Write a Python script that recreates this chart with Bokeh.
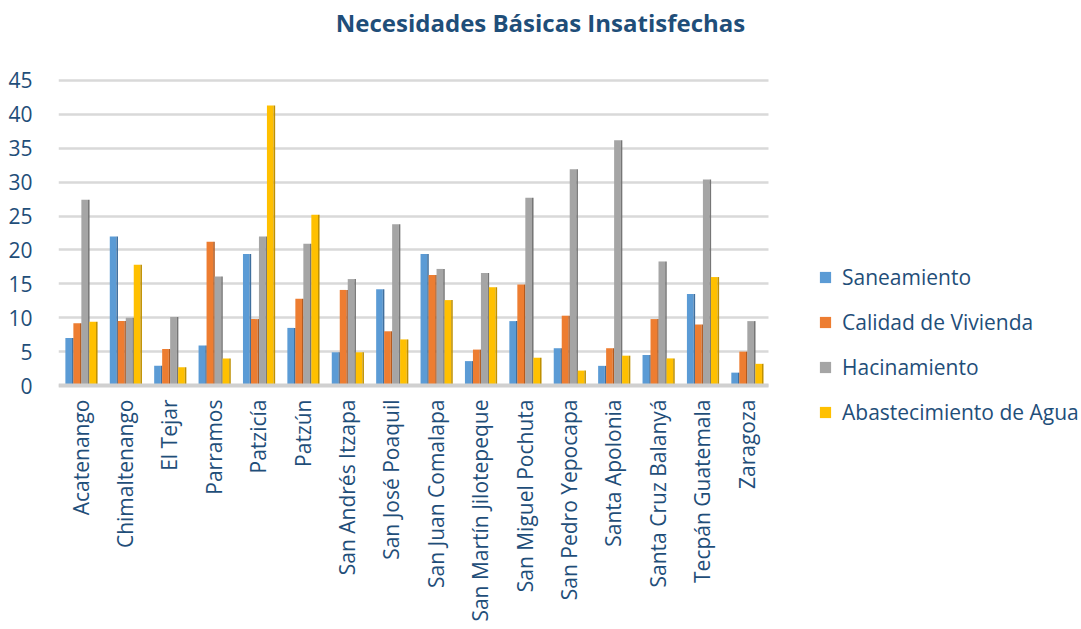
from bokeh.plotting import figure
from bokeh.models import ColumnDataSource, Legend, LegendItem, Range1d, FixedTicker, Label
from bokeh.transform import dodge
from bokeh.embed import file_html
from bokeh.resources import INLINE
import math

municipios = ["Acatenango", "Chimaltenango", "El Tejar", "Parramos", "Patzicía", "Patzún",
              "San Andrés Itzapa", "San José Poaquil", "San Juan Comalapa",
              "San Martín Jilotepeque", "San Miguel Pochuta", "San Pedro Yepocapa",
              "Santa Apolonia", "Santa Cruz Balanyá", "Tecpán Guatemala", "Zaragoza"]
saneamiento  = [7.0, 22.0, 2.9, 5.9, 19.4, 8.5, 4.9, 14.2, 19.4, 3.6, 9.5, 5.5, 2.9, 4.5, 13.5, 1.9]
calidad      = [9.2, 9.5, 5.4, 21.2, 9.8, 12.8, 14.1, 8.0, 16.3, 5.3, 14.9, 10.3, 5.5, 9.8, 9.0, 5.0]
hacinamiento = [27.4, 10.0, 10.1, 16.1, 22.0, 20.9, 15.7, 23.8, 17.2, 16.6, 27.7, 31.9, 36.2, 18.3, 30.4, 9.5]
agua         = [9.4, 17.8, 2.7, 4.0, 41.3, 25.2, 4.9, 6.8, 12.6, 14.5, 4.1, 2.2, 4.4, 4.0, 16.0, 3.2]
series_names = ["Saneamiento", "Calidad de Vivienda", "Hacinamiento", "Abastecimiento de Agua"]
y_ticks = [0, 5, 10, 15, 20, 25, 30, 35, 40, 45]
titulo = "Necesidades Básicas Insatisfechas"

front_colors = ["#5B9BD5", "#ED7D31", "#A5A5A5", "#FFC000"]
side_colors = ["#3F6F9E", "#B45A1E", "#767676", "#BF9000"]
text_color = "#1F4E79"
FONT = "Open Sans"
cols = ["s0", "s1", "s2", "s3"]

n = len(municipios)
xi = [i + 0.5 for i in range(n)]          # category centres on a numeric scale
src = ColumnDataSource(dict(xi=xi, s0=saneamiento, s1=calidad, s2=hacinamiento, s3=agua))

# frame fills the figure (except the y-label strip), so title/legend/x-labels are inside it
p = figure(x_range=Range1d(0, 23.02), y_range=Range1d(-35.7, 56.8),
           width=1080, height=627, output_backend="svg", toolbar_location=None,
           min_border_left=58, min_border_right=0, min_border_top=0, min_border_bottom=0)

offsets = [-0.27, -0.09, 0.09, 0.27]
bw = 0.15
sw = 0.035
renderers = []
for i, col in enumerate(cols):
    r = p.vbar(x=dodge("xi", offsets[i]), top=col, width=bw, bottom=0,
               source=src, fill_color=front_colors[i], line_color=None)
    p.vbar(x=dodge("xi", offsets[i] + bw / 2 + sw / 2), top=col, width=sw, bottom=0,
           source=src, fill_color=side_colors[i], line_color=None)
    renderers.append(r)

p.yaxis.ticker = FixedTicker(ticks=y_ticks)
p.yaxis.axis_line_color = None
p.yaxis.major_tick_line_color = None
p.yaxis.minor_tick_line_color = None
p.yaxis.major_label_standoff = 20
p.yaxis.major_label_text_font = FONT
p.yaxis.major_label_text_font_size = "21px"
p.yaxis.major_label_text_color = text_color

p.xaxis.fixed_location = 0
p.xaxis.bounds = (0, n)
p.xaxis.ticker = FixedTicker(ticks=xi)
p.xaxis.major_label_overrides = {x: m for x, m in zip(xi, municipios)}
p.xaxis.axis_line_color = "#D0D0D0"
p.xaxis.axis_line_width = 4
p.xaxis.major_tick_line_color = None
p.xaxis.minor_tick_line_color = None
p.xaxis.major_label_orientation = math.pi / 2
p.xaxis.major_label_standoff = 8
p.xaxis.major_label_text_font = FONT
p.xaxis.major_label_text_font_size = "21px"
p.xaxis.major_label_text_color = text_color

p.xgrid.grid_line_color = None
p.ygrid.grid_line_color = "#D9D9D9"
p.ygrid.grid_line_width = 2.5
p.ygrid.cross_bounds = (0, n)
p.outline_line_color = None

p.add_layout(Label(x=482, y=605, x_units="screen", y_units="screen", text=titulo,
                   text_align="center", text_baseline="middle", text_font=FONT,
                   text_font_style="bold", text_font_size="24px", text_color=text_color))

legend = Legend(items=[LegendItem(label=series_names[i], renderers=[renderers[i]]) for i in range(4)],
                location=(760, 201))
legend.background_fill_alpha = 0
legend.border_line_color = None
legend.label_text_font = FONT
legend.label_text_font_size = "21px"
legend.label_text_color = text_color
legend.glyph_width = 14
legend.glyph_height = 14
legend.label_standoff = 10
legend.spacing = 17
legend.padding = 0
legend.margin = 0
p.add_layout(legend, "center")

open("out.html", "w").write(file_html(p, INLINE))
